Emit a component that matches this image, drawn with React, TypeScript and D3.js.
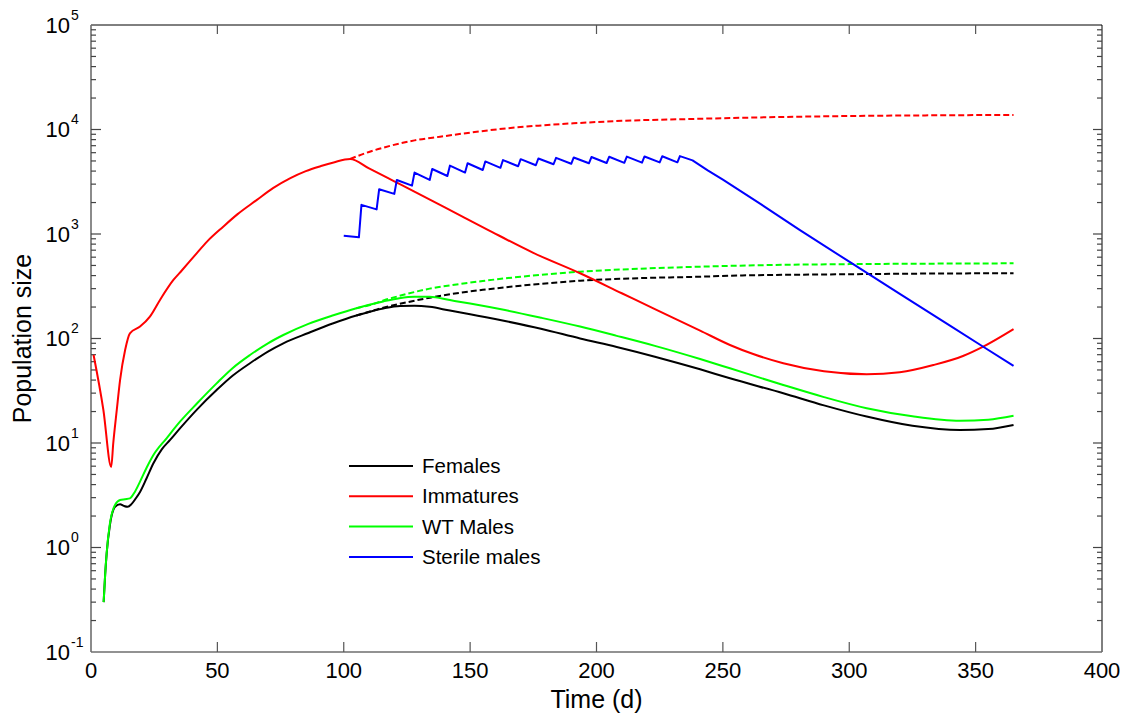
import React from "react";
import * as d3 from "d3";

// ---- data (time in days, population size) ----
const females: [number, number][] = [
  [5, 0.3], [5.6, 0.55], [6.2, 0.88], [7.5, 1.65], [9.5, 2.45], [11.5, 2.6], [13, 2.5], [14.5, 2.45],
  [16, 2.6], [17.5, 2.9], [19.4, 3.4], [22, 4.6], [24.7, 6.4], [28, 8.7], [31.3, 10.7], [35.2, 13.8],
  [42, 21], [49.7, 32.1], [56, 44], [62.9, 58], [70, 75], [76.1, 90], [86, 113], [95.9, 140],
  [105, 166], [115.6, 194], [122.3, 205], [128, 206], [134, 201], [142, 185], [150, 171],
  [163.8, 147], [178, 124], [193.5, 100], [208, 83], [223.1, 67], [241, 50.7], [252.8, 41.6],
  [273.9, 29.9], [290, 22.9], [306.9, 17.9], [325, 14.6], [343.8, 13.3], [355, 13.6], [365, 14.9],
];

const femalesNoControl: [number, number][] = [
  [105, 166], [112, 186], [116, 198], [125, 222], [134.1, 246], [142, 265], [155, 292], [170, 320],
  [193.5, 357], [220, 380], [241, 390], [252.8, 399], [300, 412], [330, 418], [365, 421],
];

const immatures: [number, number][] = [
  [1, 70], [4.9, 20.7], [8, 5.9], [8.8, 9.9], [10.2, 20.7], [11.5, 40], [13.5, 77.6], [15.4, 112],
  [19.4, 130], [23.3, 162], [27.3, 234], [32.6, 363], [36, 450], [41.8, 653], [46, 850],
  [52.3, 1175], [58, 1550], [65.5, 2110], [72, 2750], [78.7, 3410], [85, 4000], [91, 4470],
  [96, 4840], [102.5, 5220], [110, 4240], [120, 3190], [140, 1800], [157.2, 1091],
  [175, 660], [193.5, 421], [210, 271], [223.1, 191], [241, 119], [252.8, 86.7], [262, 71],
  [273.9, 58], [290, 48.5], [306.9, 45.4], [320, 47.5], [333.3, 55.7], [345, 68], [353, 83.6], [365, 123],
];

const immaturesNoControl: [number, number][] = [
  [102.5, 5220], [110, 6100], [118.3, 6970], [128, 7870], [138.1, 8530], [150, 9330],
  [164.5, 10260], [177, 10890], [190.8, 11460], [210, 12100], [237, 12600], [265, 13060],
  [299, 13450], [330, 13650], [365, 13780],
];

const wtMales: [number, number][] = [
  [5, 0.3], [5.6, 0.55], [6.2, 0.885], [7.5, 1.71], [9.5, 2.55], [11.5, 2.85], [13.5, 2.9],
  [15.4, 2.95], [17, 3.3], [19.4, 4.27], [22, 5.8], [24.7, 7.67], [29.9, 11.1], [35.2, 16],
  [42, 24], [49.7, 37.2], [56, 52], [62.9, 69.5], [70, 90], [76.1, 108], [86, 138], [95.9, 167],
  [105, 195], [115.6, 226], [122, 243], [128, 251], [134, 251], [142, 233], [150, 216],
  [163.8, 187], [178, 158], [193.5, 130], [208, 106], [223.1, 85], [241, 63.6], [252.8, 51.9],
  [273.9, 35.9], [290, 27.5], [306.9, 21.5], [325, 18], [343.8, 16.3], [355, 16.7], [365, 18.2],
];

const wtMalesNoControl: [number, number][] = [
  [105, 195], [112, 215], [116, 232], [125, 267], [134, 300], [142, 322], [155, 355], [170, 390],
  [193.5, 436], [220, 468], [241, 487], [260, 500], [300, 515], [330, 520], [365, 524],
];

const sterileMales: [number, number][] = [
  [100, 960], [106, 930], [107, 1900], [113, 1720], [114, 2680], [120, 2420], [121, 3290],
  [127, 2900], [128, 3870], [134, 3290], [135, 4190], [141, 3590], [142, 4510], [148, 3870],
  [149, 4750], [155, 4100], [156, 4950], [162, 4300], [163, 5100], [169, 4450], [170, 5200],
  [176, 4550], [177, 5280], [183, 4650], [184, 5350], [190, 4700], [191, 5400], [197, 4750],
  [198, 5450], [204, 4780], [205, 5480], [211, 4800], [212, 5500], [218, 4820], [219, 5520],
  [225, 4840], [226, 5540], [232, 4850], [233, 5560], [238, 5070], [244, 4070], [250, 3310],
  [265, 1930], [280.5, 1091], [300, 543], [320, 267], [340, 132], [353, 83.4], [365, 54.6],
];

const xTicks = [0, 50, 100, 150, 200, 250, 300, 350, 400];
const yExponents = [-1, 0, 1, 2, 3, 4, 5];
const legendLabels = ["Females", "Immatures", "WT Males", "Sterile males"];
const legendColors = ["#000000", "#ff0000", "#00ff00", "#0000ff"];

const W = 1122;
const H = 714;
const L = 91, R = 1102, T = 25, B = 652;
const FONT = "Arial, 'Liberation Sans', Helvetica, sans-serif";

export default function App() {
  const x = d3.scaleLinear().domain([0, 400]).range([L, R]);
  const y = d3.scaleLog().domain([0.1, 100000]).range([B, T]);

  const smooth = d3.line<[number, number]>().x(d => x(d[0])).y(d => y(d[1])).curve(d3.curveMonotoneX);
  const straight = d3.line<[number, number]>().x(d => x(d[0])).y(d => y(d[1]));

  const minor: number[] = [];
  for (let e = -1; e < 5; e++) {
    for (let k = 2; k <= 9; k++) minor.push(k * Math.pow(10, e));
  }

  const series = [
    { d: femalesNoControl, c: "#000000", dash: "6,3", gen: smooth },
    { d: wtMalesNoControl, c: "#00ff00", dash: "6,3", gen: smooth },
    { d: immaturesNoControl, c: "#ff0000", dash: "6,3", gen: smooth },
    { d: females, c: "#000000", dash: undefined, gen: smooth },
    { d: immatures, c: "#ff0000", dash: undefined, gen: smooth },
    { d: wtMales, c: "#00ff00", dash: undefined, gen: smooth },
    { d: sterileMales, c: "#0000ff", dash: undefined, gen: straight },
  ];

  return (
    <svg width={W} height={H} style={{ position: "absolute", left: 0, top: 0, background: "#fff" }} fontFamily={FONT}>
      <rect x={0} y={0} width={W} height={H} fill="#fff" />
      {/* frame */}
      <line x1={L} x2={R} y1={T} y2={T} stroke="#000" strokeWidth={1} />
      <line x1={R} x2={R} y1={T} y2={B} stroke="#000" strokeWidth={1} />
      <line x1={L} x2={R} y1={B} y2={B} stroke="#6e6e6e" strokeWidth={1.6} />
      <line x1={L} x2={L} y1={T} y2={B} stroke="#6e6e6e" strokeWidth={1.6} />

      {/* x ticks */}
      {xTicks.map(t => (
        <g key={"xt" + t}>
          {t > 0 && t < 400 && (
            <>
              <line x1={x(t)} x2={x(t)} y1={B} y2={B - 10} stroke="#555" strokeWidth={1.2} />
              <line x1={x(t)} x2={x(t)} y1={T} y2={T + 9} stroke="#555" strokeWidth={1.2} />
            </>
          )}
          <text x={x(t)} y={678} textAnchor="middle" fontSize={22} fill="#000">{t}</text>
        </g>
      ))}

      {/* y ticks */}
      {yExponents.map(e => {
        const v = Math.pow(10, e);
        return (
          <g key={"ye" + e}>
            {e > -1 && e < 5 && (
              <>
                <line x1={L} x2={L + 10} y1={y(v)} y2={y(v)} stroke="#444" strokeWidth={1.2} />
                <line x1={R} x2={R - 9} y1={y(v)} y2={y(v)} stroke="#444" strokeWidth={1.2} />
              </>
            )}
            <text x={70} y={y(v) + 7.5} textAnchor="end" fontSize={22} fill="#000">10</text>
            <text x={71} y={y(v) - 5.5} textAnchor="start" fontSize={14} fill="#000">{e}</text>
          </g>
        );
      })}
      {minor.map(v => (
        <g key={"mn" + v}>
          <line x1={L} x2={L + 5} y1={y(v)} y2={y(v)} stroke="#444" strokeWidth={1.2} />
          <line x1={R} x2={R - 5} y1={y(v)} y2={y(v)} stroke="#444" strokeWidth={1.2} />
        </g>
      ))}

      {/* series */}
      {series.map((s, i) => (
        <path key={"s" + i} d={s.gen(s.d) || ""} fill="none" stroke={s.c} strokeWidth={2}
          strokeDasharray={s.dash} strokeLinejoin="round" />
      ))}

      {/* legend */}
      {legendLabels.map((lab, i) => {
        const ly = 466 + i * 30.3;
        return (
          <g key={"lg" + i}>
            <line x1={349} x2={413} y1={ly} y2={ly} stroke={legendColors[i]} strokeWidth={2} />
            <text x={422} y={ly + 7} fontSize={20.5} fill="#000">{lab}</text>
          </g>
        );
      })}

      {/* axis titles */}
      <text x={(L + R) / 2} y={708} textAnchor="middle" fontSize={25} fill="#000">Time (d)</text>
      <text transform={`translate(31, ${(T + B) / 2}) rotate(-90)`} textAnchor="middle" fontSize={25} fill="#000">Population size</text>
    </svg>
  );
}
